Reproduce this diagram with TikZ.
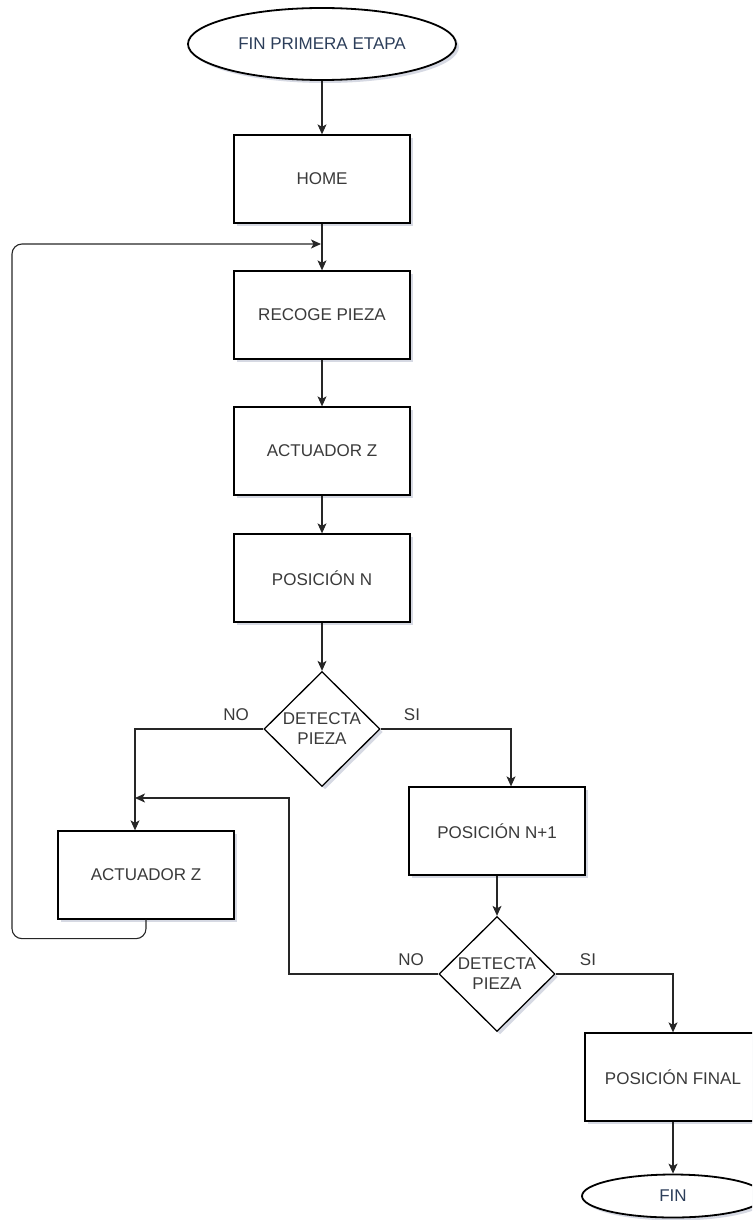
\documentclass[tikz,border=0pt]{standalone}
\usepackage{fontspec}
\setmainfont{Liberation Sans}
\usetikzlibrary{shapes.geometric,arrows.meta,shadows}

\definecolor{letra}{HTML}{3A3A3A}
\definecolor{letraterm}{HTML}{2C3E5A}
\definecolor{sombra}{HTML}{8A93B0}

\tikzset{
  base/.style={draw=black, line width=1.3pt, fill=white, text=letra,
    font=\fontsize{17pt}{20pt}\selectfont,
    drop shadow={shadow xshift=3pt, shadow yshift=-3pt, opacity=0.35, fill=sombra}},
  caja/.style={base, rectangle, minimum width=176pt, minimum height=88pt},
  terminal/.style={base, ellipse, line width=1.8pt, text=letraterm},
  decision/.style={base, diamond, inner sep=0pt, align=center,
    minimum width=116pt, minimum height=115pt},
  flecha/.style={draw=black!85, line width=1.1pt,
    -{Stealth[length=10pt,width=9pt,inset=2.5pt]}},
  etiqueta/.style={text=letra, font=\fontsize{17pt}{20pt}\selectfont}
}

\begin{document}
\begin{tikzpicture}[x=1pt,y=1pt]
  \useasboundingbox (0,0) rectangle (752,-1220);
  \clip (0,0) rectangle (752,-1220);

  % columna principal
  \node[terminal, minimum width=268pt, minimum height=72pt] (inicio) at (322,-44) {FIN PRIMERA ETAPA};
  \node[caja] (home) at (322,-179) {HOME};
  \node[caja] (recoge) at (322,-315) {RECOGE PIEZA};
  \node[caja] (actz) at (322,-451) {ACTUADOR Z};
  \node[caja] (posn) at (322,-578) {POSICIÓN N};
  \node[decision] (det1) at (322,-729) {DETECTA\\PIEZA};

  % rama NO
  \node[caja] (act2) at (146,-875) {ACTUADOR Z};

  % rama SI
  \node[caja] (posn1) at (497,-831) {POSICIÓN N+1};
  \node[decision] (det2) at (497,-974) {DETECTA\\PIEZA};
  \node[caja] (posfin) at (673,-1077) {POSICIÓN FINAL};
  \node[terminal, minimum width=182pt, minimum height=43pt] (fin) at (673,-1196) {FIN};

  % etiquetas de las decisiones
  \node[etiqueta] (no1) at (236,-715) {NO};
  \node[etiqueta] (si1) at (412,-715) {SI};
  \node[etiqueta] (no2) at (411,-960) {NO};
  \node[etiqueta] (si2) at (588,-960) {SI};

  \coordinate (entrada) at (321,-244);
  \coordinate (codo) at (289,-798);
  \coordinate (union) at (135,-798);

  \draw[flecha] (inicio) -- (home);
  \draw[flecha] (home) -- (recoge);
  \draw[flecha] (recoge) -- (actz);
  \draw[flecha] (actz) -- (posn);
  \draw[flecha] (posn) -- (det1);
  \draw[flecha] (det1.west) -| ([xshift=-11pt]act2.north);
  \draw[flecha] (det1.east) -| ([xshift=14pt]posn1.north);
  \draw[flecha] (posn1) -- (det2);
  \draw[flecha] (det2.west) -| (codo) -- (union);
  \draw[flecha] (det2.east) -| (posfin.north);
  \draw[flecha] (posfin) -- (fin);
  % vuelta a recoger otra pieza
  \draw[flecha, rounded corners=10pt] (act2.south) -- ++(0,-19) -| (12,-244) -- (entrada);
\end{tikzpicture}
\end{document}
